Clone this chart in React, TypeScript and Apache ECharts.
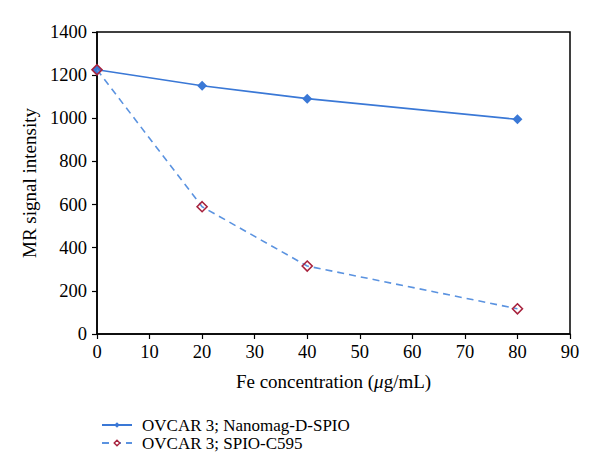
import React, { useEffect, useRef } from "react";
import * as echarts from "echarts";

const concentrations = [0, 20, 40, 80];
const nanomagValues = [1225, 1151, 1091, 995];
const spioValues = [1225, 590, 315, 117];
const seriesNames = ["OVCAR 3; Nanomag-D-SPIO", "OVCAR 3; SPIO-C595"];
const xTitle = "Fe concentration (";
const yTitle = "MR signal intensity";

const FONT = "'Liberation Serif', 'Times New Roman', serif";
const BLUE = "#3a78d6";
const LIGHT_BLUE = "#5b93e0";
const RED = "#a8233e";

export default function App() {
  const ref = useRef<HTMLDivElement>(null);
  useEffect(() => {
    if (!ref.current) return;
    const chart = echarts.init(ref.current, null, { renderer: "svg" });
    chart.setOption({
      animation: false,
      backgroundColor: "#ffffff",
      textStyle: { fontFamily: FONT, color: "#000" },
      grid: {
        left: 97,
        right: 30,
        top: 32,
        bottom: 141,
        show: true,
        borderColor: "#000",
        borderWidth: 1.5,
      },
      legend: {
        orient: "vertical",
        left: 96,
        top: 411,
        itemWidth: 30,
        itemHeight: 7,
        itemGap: 0,
        textStyle: {
          fontFamily: FONT,
          fontSize: 17,
          color: "#000",
          lineHeight: 18,
          padding: [0, 0, 0, 5],
        },
        data: [
          { name: seriesNames[0], itemStyle: { color: BLUE } },
          {
            name: seriesNames[1],
            itemStyle: { color: "#ffffff", borderColor: RED, borderWidth: 1.4 },
          },
        ],
      },
      xAxis: {
        type: "value",
        min: 0,
        max: 90,
        interval: 10,
        name: xTitle + "{i|μ}g/mL)",
        nameLocation: "middle",
        nameGap: 38,
        nameTextStyle: {
          fontFamily: FONT,
          fontSize: 19,
          color: "#000",
          rich: { i: { fontFamily: FONT, fontSize: 19, fontStyle: "italic", color: "#000" } },
        },
        axisLine: { lineStyle: { color: "#000", width: 1.5 } },
        axisTick: { show: true, length: 5, lineStyle: { color: "#000", width: 1.2 } },
        axisLabel: { fontFamily: FONT, fontSize: 18.5, color: "#000", margin: 8 },
        splitLine: { show: false },
      },
      yAxis: {
        type: "value",
        min: 0,
        max: 1400,
        interval: 200,
        name: yTitle,
        nameLocation: "middle",
        nameGap: 56,
        nameRotate: 90,
        nameTextStyle: { fontFamily: FONT, fontSize: 19, color: "#000" },
        axisLine: { show: true, lineStyle: { color: "#000", width: 1.5 } },
        axisTick: { show: true, length: 5, lineStyle: { color: "#000", width: 1.2 } },
        axisLabel: {
          fontFamily: FONT,
          fontSize: 18.5,
          color: "#000",
          margin: 10,
          formatter: (v: number) => String(v),
        },
        splitLine: { show: false },
      },
      series: [
        {
          name: seriesNames[0],
          type: "line",
          data: concentrations.map((c, i) => [c, nanomagValues[i]]),
          symbol: "diamond",
          symbolSize: 10,
          lineStyle: { color: BLUE, width: 1.6 },
          itemStyle: { color: BLUE },
          z: 2,
        },
        {
          name: seriesNames[1],
          type: "line",
          data: concentrations.map((c, i) => [c, spioValues[i]]),
          symbol: "diamond",
          symbolSize: 10,
          lineStyle: { color: LIGHT_BLUE, width: 1.6, type: [7, 5] },
          itemStyle: { color: "rgba(255,255,255,0)", borderColor: RED, borderWidth: 1.6 },
          z: 3,
        },
      ],
    });
    return () => chart.dispose();
  }, []);
  return <div ref={ref} style={{ width: 600, height: 475, margin: -8 }} />;
}
